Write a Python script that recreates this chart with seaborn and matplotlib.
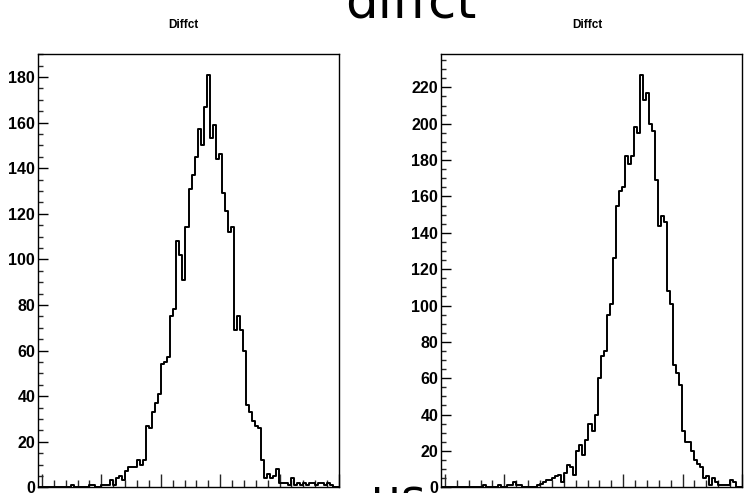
import numpy as np
import pandas as pd
import matplotlib
matplotlib.use("Agg")
import matplotlib.pyplot as plt
from matplotlib.ticker import MultipleLocator
import seaborn as sns

# Bin counts of the two Diffct histograms (100 equal bins each)
left_counts = [
    0, 0, 0, 0, 0, 0, 0, 0, 0, 0,
    0, 1, 0, 0, 0, 0, 0, 1, 1, 0,
    0, 1, 1, 1, 3, 1, 4, 5, 3, 7,
    9, 9, 9, 12, 10, 12, 27, 26, 33, 37,
    41, 54, 55, 57, 75, 78, 108, 102, 91, 114,
    131, 137, 145, 157, 150, 167, 181, 153, 159, 144,
    146, 129, 121, 112, 114, 69, 75, 69, 60, 36,
    33, 29, 27, 26, 12, 4, 6, 4, 5, 8,
    2, 2, 2, 1, 4, 1, 2, 1, 2, 1,
    2, 2, 1, 2, 2, 1, 2, 1, 0, 0,
]
right_counts = [
    0, 0, 0, 0, 0, 0, 0, 0, 0, 0,
    0, 0, 0, 0, 1, 0, 0, 0, 0, 1,
    0, 0, 1, 1, 3, 1, 1, 0, 0, 0,
    0, 0, 1, 2, 3, 4, 4, 5, 6, 7,
    3, 8, 12, 11, 7, 20, 23, 18, 26, 35,
    31, 40, 60, 72, 75, 95, 101, 126, 155, 163,
    165, 182, 178, 182, 198, 195, 227, 213, 217, 200,
    196, 169, 144, 149, 146, 108, 101, 67, 63, 56,
    31, 25, 25, 20, 15, 13, 11, 5, 6, 1,
    5, 3, 1, 1, 1, 1, 4, 3, 0, 0,
]
panel_titles = ["Diffct", "Diffct"]
x_low, x_high = -0.066, 5.0

n_bins = len(left_counts)
edges = np.linspace(x_low, x_high, n_bins + 1)
centers = 0.5 * (edges[:-1] + edges[1:])

sns.set_style("ticks")
plt.rcParams["font.family"] = ["Liberation Sans", "DejaVu Sans"]

W, H = 752, 493
fig = plt.figure(figsize=(W / 100, H / 100), dpi=100)
fig.patch.set_facecolor("white")

def px_box(x0, x1, top, bottom):
    return [x0 / W, 1 - bottom / H, (x1 - x0) / W, (bottom - top) / H]

axes = [
    fig.add_axes(px_box(38, 339, 54, 487.3)),
    fig.add_axes(px_box(441, 742, 54, 487.3)),
]

for ax, counts, title, tx in zip(axes, [left_counts, right_counts], panel_titles, [183, 587]):
    df = pd.DataFrame({"x": centers, "n": np.asarray(counts, dtype=float)})
    sns.histplot(data=df, x="x", weights="n", bins=n_bins, binrange=(x_low, x_high),
                 element="step", fill=False, color="black", linewidth=1.4, ax=ax)
    ax.set_xlim(x_low, x_high)
    ax.set_ylim(0, max(counts) * 1.05)
    ax.set_xlabel("")
    ax.set_ylabel("")
    ax.set_facecolor("white")
    for sp in ax.spines.values():
        sp.set_visible(True)
        sp.set_color("black")
        sp.set_linewidth(1.0)
    ax.yaxis.set_major_locator(MultipleLocator(20))
    ax.yaxis.set_minor_locator(MultipleLocator(5))
    ax.xaxis.set_major_locator(MultipleLocator(1.0))
    ax.xaxis.set_minor_locator(MultipleLocator(0.2))
    ax.tick_params(axis="y", which="major", direction="in", length=7.2, width=1.0,
                   left=True, right=False, labelsize=11.5, pad=2, colors="black")
    ax.tick_params(axis="y", which="minor", direction="in", length=3.6, width=1.0,
                   left=True, right=False)
    ax.tick_params(axis="x", which="major", direction="in", length=9.4, width=1.0,
                   bottom=True, top=False, labelbottom=False)
    ax.tick_params(axis="x", which="minor", direction="in", length=5.0, width=1.0,
                   bottom=True, top=False)
    for lab in ax.get_yticklabels():
        lab.set_fontweight("bold")
    fig.text(tx / W, 1 - 25 / H, title, ha="center", va="center",
             fontsize=8.5, fontweight="bold", color="black")

# Slide heading and unit label, partly running off the page edges
fig.text(411 / W, 1 - 17 / H, "diffct", ha="center", va="baseline",
         fontsize=37, color="black", family=["DejaVu Sans"])
fig.text(398 / W, 1 - 512 / H, "us", ha="center", va="baseline",
         fontsize=34, color="black", family=["DejaVu Sans"])

fig.savefig("out.png", dpi=100, facecolor="white")
